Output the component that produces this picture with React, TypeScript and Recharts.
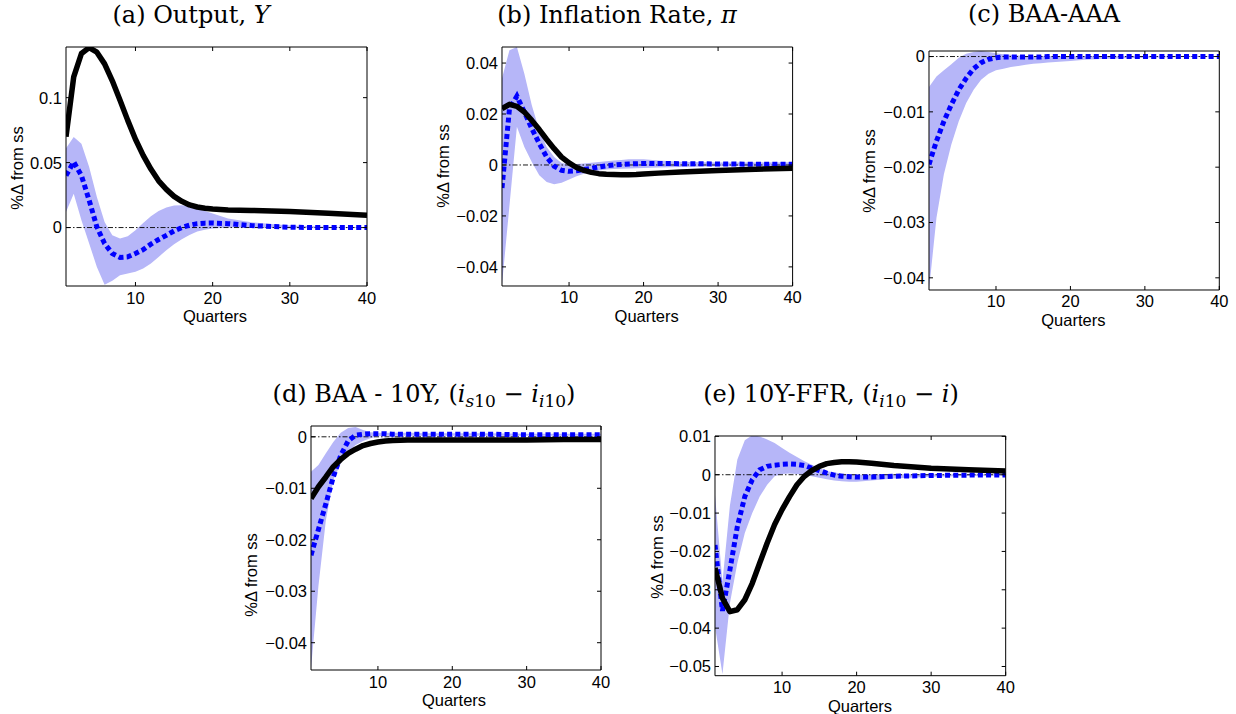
import React from "react";
import { ComposedChart, Line, Area, XAxis, YAxis, ReferenceLine } from "recharts";

const QUARTERS = [1, 2, 3, 4, 5, 6, 7, 8, 9, 10, 11, 12, 13, 14, 15, 16, 17, 18, 19, 20, 22, 25, 30, 35, 40];
const X_TICKS = [10, 20, 30, 40];

// (a) Output
const OUT_MODEL = [0.07, 0.116, 0.134, 0.1385, 0.135, 0.126, 0.113, 0.098, 0.0825, 0.068, 0.0556, 0.045, 0.036, 0.0294, 0.024, 0.0202, 0.0174, 0.0158, 0.0148, 0.0142, 0.0136, 0.0132, 0.0123, 0.011, 0.0095];
const OUT_VAR = [0.04, 0.0505, 0.04, 0.021, 0.0005, -0.0123, -0.02, -0.023, -0.0226, -0.02, -0.017, -0.0128, -0.0092, -0.006, -0.0026, 0, 0.0018, 0.003, 0.0034, 0.0035, 0.003, 0.0015, 0.0002, 0, 0];
const OUT_HI = [0.061, 0.0697, 0.0646, 0.0466, 0.0235, 0.0043, -0.006, -0.0085, -0.0067, -0.002, 0.0035, 0.0087, 0.0128, 0.0154, 0.017, 0.0172, 0.0164, 0.0146, 0.0127, 0.0108, 0.007, 0.004, 0.0015, 0.0006, 0.0003];
const OUT_LO = [0.012, 0.026, 0.0056, -0.0123, -0.0303, -0.044, -0.041, -0.0367, -0.0354, -0.034, -0.0316, -0.0277, -0.0226, -0.0175, -0.0128, -0.009, -0.0057, -0.003, -0.0017, -0.0008, 0, -0.0002, -0.0005, -0.0004, -0.0003];
const OUT_TICKS = [0, 0.05, 0.1];

// (b) Inflation
const INF_MODEL = [0.0221, 0.0238, 0.023, 0.0208, 0.0175, 0.0139, 0.01, 0.0064, 0.0031, 0.0008, -0.001, -0.0021, -0.0029, -0.0034, -0.0036, -0.0037, -0.0038, -0.0038, -0.0037, -0.0035, -0.0032, -0.0028, -0.0022, -0.0017, -0.0013];
const INF_VAR = [-0.009, 0.022, 0.027, 0.0208, 0.0143, 0.0084, 0.0031, -0.0005, -0.0021, -0.0025, -0.0023, -0.0018, -0.0013, -0.0008, -0.0003, 0, 0.0002, 0.0004, 0.0005, 0.0006, 0.0006, 0.0005, 0.0004, 0.0003, 0.0003];
const INF_HI = [0.034, 0.045, 0.0463, 0.0358, 0.0234, 0.0136, 0.0071, 0.0031, 0.0008, 0.0003, 0.0004, 0.0006, 0.0009, 0.0012, 0.0015, 0.0018, 0.002, 0.0022, 0.0022, 0.0022, 0.0018, 0.0013, 0.001, 0.001, 0.0011];
const INF_LO = [-0.047, -0.016, 0.015, 0.0071, 0.0012, -0.004, -0.0067, -0.0076, -0.007, -0.0057, -0.0044, -0.0034, -0.0027, -0.0022, -0.0018, -0.0016, -0.0015, -0.0014, -0.0013, -0.0012, -0.001, -0.0008, -0.0005, -0.0004, -0.0003];
const INF_TICKS = [-0.04, -0.02, 0, 0.02, 0.04];

// (c) BAA-AAA
const BAA_VAR = [-0.0195, -0.0153, -0.0117, -0.0087, -0.006, -0.0039, -0.0022, -0.0011, -0.0005, -0.0002, -0.0001, -0.0001, -0.0001, -0.0001, -0.0001, -0.0001, 0, 0, 0, 0, 0, 0, 0, 0, 0];
const BAA_HI = [-0.0055, -0.0036, -0.0025, -0.0014, -0.0002, 0.0005, 0.0008, 0.001, 0.0008, 0.0006, 0.0004, 0.0003, 0.0002, 0.0001, 0.0001, 0.0001, 0.0001, 0.0001, 0.0001, 0.0001, 0.0001, 0.0001, 0.0001, 0.0001, 0.0001];
const BAA_LO = [-0.0422, -0.0292, -0.0213, -0.0159, -0.0117, -0.0084, -0.006, -0.0042, -0.0031, -0.0025, -0.0022, -0.0019, -0.0017, -0.0015, -0.0013, -0.0012, -0.0011, -0.001, -0.0009, -0.0008, -0.0006, -0.0004, -0.0002, -0.0001, -0.0001];
const BAA_TICKS = [-0.04, -0.03, -0.02, -0.01, 0];

// (d) BAA - 10Y
const S10_MODEL = [-0.012, -0.0097, -0.0078, -0.0058, -0.0044, -0.0032, -0.0024, -0.0017, -0.0013, -0.001, -0.0008, -0.0007, -0.00065, -0.0006, -0.0006, -0.0006, -0.0006, -0.0006, -0.0006, -0.0006, -0.0006, -0.0006, -0.0006, -0.0005, -0.0005];
const S10_VAR = [-0.023, -0.018, -0.013, -0.0078, -0.0036, -0.0008, 0.0003, 0.0005, 0.0006, 0.0006, 0.0006, 0.0005, 0.0005, 0.0005, 0.0005, 0.0005, 0.0005, 0.0005, 0.0005, 0.0005, 0.0005, 0.0005, 0.0004, 0.0004, 0.0004];
const S10_HI = [-0.0068, -0.0055, -0.0032, -0.001, 0.0008, 0.0017, 0.0019, 0.0013, 0.0009, 0.0008, 0.0008, 0.0008, 0.0008, 0.0008, 0.0008, 0.0007, 0.0007, 0.0007, 0.0007, 0.0007, 0.0007, 0.0007, 0.0006, 0.0006, 0.0006];
const S10_LO = [-0.045, -0.029, -0.0162, -0.0084, -0.0052, -0.0029, -0.0016, -0.0008, -0.0003, 0.0001, 0.0002, 0.0002, 0.0002, 0.0002, 0.0002, 0.0002, 0.0002, 0.0002, 0.0002, 0.0002, 0.0002, 0.0002, 0.0002, 0.0002, 0.0002];
const S10_TICKS = [-0.04, -0.03, -0.02, -0.01, 0];

// (e) 10Y - FFR
const TERM_MODEL = [-0.0243, -0.0322, -0.0357, -0.0352, -0.0326, -0.0283, -0.023, -0.0178, -0.013, -0.0091, -0.0057, -0.0026, -0.0004, 0.0011, 0.0022, 0.0029, 0.0032, 0.0034, 0.0034, 0.0033, 0.003, 0.0024, 0.0017, 0.0013, 0.001];
const TERM_VAR = [-0.0183, -0.0355, -0.0248, -0.0135, -0.0057, -0.0013, 0.0013, 0.0022, 0.0025, 0.0027, 0.0028, 0.0027, 0.0024, 0.0017, 0.0011, 0.0004, -0.0001, -0.0004, -0.0005, -0.0006, -0.0006, -0.0004, -0.0002, -0.0001, -0.0001];
const TERM_HI = [-0.0052, -0.028, -0.008, 0.004, 0.009, 0.0103, 0.01, 0.0092, 0.0083, 0.007, 0.0057, 0.0046, 0.0035, 0.0026, 0.0017, 0.001, 0.0006, 0.0003, 0.0001, 0, 0, 0.0001, 0.0001, 0.0001, 0.0001];
const TERM_LO = [-0.0396, -0.052, -0.0335, -0.023, -0.0152, -0.01, -0.0057, -0.0026, -0.0004, 0.0002, 0.0003, 0.0002, 0, -0.0004, -0.0008, -0.0012, -0.0015, -0.0017, -0.0018, -0.0018, -0.0015, -0.001, -0.0005, -0.0003, -0.0002];
const TERM_TICKS = [-0.05, -0.04, -0.03, -0.02, -0.01, 0, 0.01];

const SANS = "'Liberation Sans', Arial, Helvetica, sans-serif";
const SERIF = "'DejaVu Serif', serif";
const BAND = "#b6b6f8";
const BLUE = "#0000ff";
const TICK = 4;
const ML = 62;
const MT = 8;
const MR = 16;
const MB = 26;
const FS = 16.5;

const fmt = (v: number) => String(v).replace("-", "\u2212");

type Box = { left: number; top: number; width: number; height: number };
type PanelCfg = {
  id: string;
  model?: number[];
  v: number[];
  lo: number[];
  hi: number[];
  yTicks: number[];
  yDomain: [number, number];
  box: Box;
};

const PANELS: PanelCfg[] = [
  { id: "a", model: OUT_MODEL, v: OUT_VAR, lo: OUT_LO, hi: OUT_HI, yTicks: OUT_TICKS, yDomain: [-0.045, 0.139], box: { left: 65.7, top: 46.7, width: 301, height: 239 } },
  { id: "b", model: INF_MODEL, v: INF_VAR, lo: INF_LO, hi: INF_HI, yTicks: INF_TICKS, yDomain: [-0.0475, 0.0463], box: { left: 501.7, top: 46.7, width: 290.6, height: 239 } },
  { id: "c", v: BAA_VAR, lo: BAA_LO, hi: BAA_HI, yTicks: BAA_TICKS, yDomain: [-0.0422, 0.001], box: { left: 928.7, top: 50.7, width: 290.3, height: 239 } },
  { id: "d", model: S10_MODEL, v: S10_VAR, lo: S10_LO, hi: S10_HI, yTicks: S10_TICKS, yDomain: [-0.0453, 0.0021], box: { left: 310.7, top: 426, width: 290, height: 244 } },
  { id: "e", model: TERM_MODEL, v: TERM_VAR, lo: TERM_LO, hi: TERM_HI, yTicks: TERM_TICKS, yDomain: [-0.0524, 0.0101], box: { left: 715.3, top: 436, width: 290.7, height: 239.7 } },
];

// text positions: y label baseline x / center y, "Quarters" center, title center/baseline
const LABELS = [
  { ylab: [22.7, 168], xlab: [215, 321.7], title: [191, 22.7] },
  { ylab: [449.3, 166], xlab: [646.7, 321.7], title: [617, 22.7] },
  { ylab: [875, 171], xlab: [1073.3, 325.7], title: [1044, 22] },
  { ylab: [256.7, 575], xlab: [454, 706], title: [424, 401.7] },
  { ylab: [662.7, 557], xlab: [860, 711.5], title: [831, 402] },
];

const BottomTick = (props: any) => {
  const { x, y, payload } = props;
  return (
    <g>
      <line x1={x} x2={x} y1={y} y2={y - TICK} stroke="#000" strokeWidth={1} />
      <text x={x} y={y + 17.5} textAnchor="middle" fontFamily={SANS} fontSize={FS} fill="#000">
        {fmt(payload.value)}
      </text>
    </g>
  );
};

const TopTick = (props: any) => {
  const { x, y } = props;
  return <line x1={x} x2={x} y1={y} y2={y + TICK} stroke="#000" strokeWidth={1} />;
};

const LeftTick = (props: any) => {
  const { x, y, payload } = props;
  return (
    <g>
      <line x1={x} x2={x + TICK} y1={y} y2={y} stroke="#000" strokeWidth={1} />
      <text x={x - 4} y={y} dy="0.36em" textAnchor="end" fontFamily={SANS} fontSize={FS} fill="#000">
        {fmt(payload.value)}
      </text>
    </g>
  );
};

const RightTick = (props: any) => {
  const { x, y } = props;
  return <line x1={x} x2={x - TICK} y1={y} y2={y} stroke="#000" strokeWidth={1} />;
};

const AXIS = { stroke: "#000", strokeWidth: 1 };

function Panel({ p }: { p: PanelCfg }) {
  const rows = QUARTERS.map((q, i) => ({
    q,
    model: p.model ? p.model[i] : null,
    v: p.v[i],
    band: [p.lo[i], p.hi[i]],
  }));
  const { left, top, width, height } = p.box;
  return (
    <div style={{ position: "absolute", left: left - ML, top: top - MT }}>
      <ComposedChart
        width={width + ML + MR}
        height={height + MT + MB}
        data={rows}
        margin={{ top: 0, right: 0, bottom: 0, left: 0 }}
      >
        <XAxis xAxisId="b" dataKey="q" type="number" domain={[1, 40]} ticks={X_TICKS} allowDataOverflow height={MB} tickSize={0} tickMargin={0} interval={0} tickLine={false} axisLine={AXIS} tick={(t: any) => <BottomTick {...t} />} />
        <XAxis xAxisId="t" orientation="top" dataKey="q" type="number" domain={[1, 40]} ticks={X_TICKS} allowDataOverflow height={MT} tickSize={0} tickMargin={0} interval={0} tickLine={false} axisLine={AXIS} tick={(t: any) => <TopTick {...t} />} />
        <YAxis yAxisId="l" type="number" domain={p.yDomain} ticks={p.yTicks} allowDataOverflow width={ML} tickSize={0} tickMargin={0} interval={0} tickLine={false} axisLine={AXIS} tick={(t: any) => <LeftTick {...t} />} />
        <YAxis yAxisId="r" orientation="right" type="number" domain={p.yDomain} ticks={p.yTicks} allowDataOverflow width={MR} tickSize={0} tickMargin={0} interval={0} tickLine={false} axisLine={AXIS} tick={(t: any) => <RightTick {...t} />} />
        <Area xAxisId="b" yAxisId="l" type="linear" dataKey="band" fill={BAND} fillOpacity={1} stroke="none" isAnimationActive={false} />
        <ReferenceLine xAxisId="b" yAxisId="l" y={0} stroke="#000" strokeWidth={0.9} strokeDasharray="5 2 1.5 2" />
        <Line xAxisId="b" yAxisId="l" type="linear" dataKey="v" stroke={BLUE} strokeWidth={5} strokeDasharray="5 3.2" dot={false} isAnimationActive={false} />
        {p.model && (
          <Line xAxisId="b" yAxisId="l" type="linear" dataKey="model" stroke="#000" strokeWidth={5.5} strokeLinejoin="round" dot={false} isAnimationActive={false} />
        )}
      </ComposedChart>
    </div>
  );
}

const SUB = { fontSize: 17, dy: 5 };

function Titles() {
  const t = LABELS.map((l) => l.title);
  return (
    <g fontFamily={SERIF} fontSize={24} fill="#000" textAnchor="middle">
      <text x={t[0][0]} y={t[0][1]}>
        (a) Output, <tspan fontStyle="italic">Y</tspan>
      </text>
      <text x={t[1][0]} y={t[1][1]}>
        (b) Inflation Rate, <tspan fontStyle="italic">π</tspan>
      </text>
      <text x={t[2][0]} y={t[2][1]}>(c) BAA-AAA</text>
      <text x={t[3][0]} y={t[3][1]}>
        (d) BAA - 10Y, (<tspan fontStyle="italic">i</tspan>
        <tspan {...SUB} fontStyle="italic">s</tspan>
        <tspan fontSize={17}>10</tspan>
        <tspan dy={-5}> − </tspan>
        <tspan fontStyle="italic">i</tspan>
        <tspan {...SUB} fontStyle="italic">i</tspan>
        <tspan fontSize={17}>10</tspan>
        <tspan dy={-5}>)</tspan>
      </text>
      <text x={t[4][0]} y={t[4][1]}>
        (e) 10Y-FFR, (<tspan fontStyle="italic">i</tspan>
        <tspan {...SUB} fontStyle="italic">i</tspan>
        <tspan fontSize={17}>10</tspan>
        <tspan dy={-5}> − </tspan>
        <tspan fontStyle="italic">i</tspan>)
      </text>
    </g>
  );
}

export default function App() {
  return (
    <div style={{ position: "absolute", left: 0, top: 0, width: 1236, height: 714, background: "#fff" }}>
      {PANELS.map((p) => (
        <Panel key={p.id} p={p} />
      ))}
      <svg width={1236} height={714} style={{ position: "absolute", left: 0, top: 0, pointerEvents: "none" }}>
        <Titles />
        {LABELS.map((l, i) => (
          <g key={i} fontFamily={SANS} fontSize={FS} fill="#000">
            <text transform={`translate(${l.ylab[0]},${l.ylab[1]}) rotate(-90)`} textAnchor="middle">
              %Δ from ss
            </text>
            <text x={l.xlab[0]} y={l.xlab[1]} textAnchor="middle">
              Quarters
            </text>
          </g>
        ))}
      </svg>
    </div>
  );
}
